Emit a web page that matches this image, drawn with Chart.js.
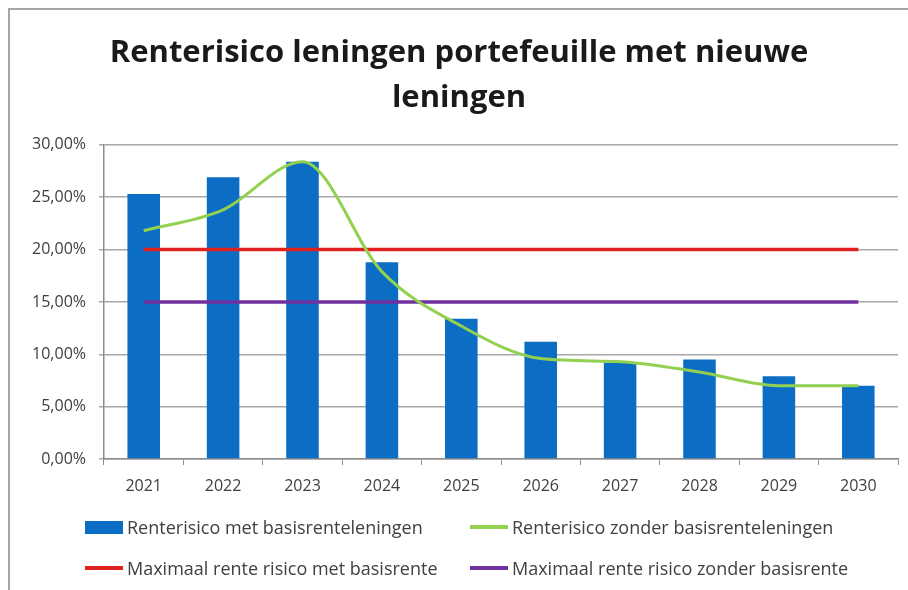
<!DOCTYPE html>
<html>
<head>
  <meta charset="UTF-8">
  <title>Renterisico leningen portefeuille</title>
  <script src="https://cdn.jsdelivr.net/npm/chart.js"></script>
  <style>
    body {
      margin: 0;
      background: #ffffff;
      font-family: 'Open Sans', sans-serif;
    }
    #wrap {
      position: relative;
      width: 908px;
      height: 590px;
      overflow: hidden;
    }
    #frame {
      position: absolute;
      left: 8px;
      top: 8px;
      width: 910px;
      height: 600px;
      border-top: 2px solid #a6a6a6;
      border-left: 2px solid #a6a6a6;
      pointer-events: none;
    }
    #legend {
      position: absolute;
      left: 85px;
      top: 514px;
      display: grid;
      grid-template-columns: 385px 420px;
      row-gap: 15px;
      font-size: 18px;
      color: #404040;
    }
    .item {
      display: flex;
      align-items: center;
      height: 26px;
    }
    .swatch {
      width: 38px;
      margin-right: 4px;
    }
  </style>
</head>
<body>
  <div id="wrap">
    <canvas id="chart" width="908" height="590"></canvas>
    <div id="frame"></div>
    <div id="legend"></div>
  </div>
  <script>
    const jaren = ['2021', '2022', '2023', '2024', '2025', '2026', '2027', '2028', '2029', '2030'];
    const metBasis = [25.3, 26.9, 28.4, 18.8, 13.4, 11.2, 9.2, 9.5, 7.9, 7.0];
    const zonderBasis = [21.8, 23.8, 28.4, 17.9, 12.7, 9.6, 9.3, 8.3, 7.0, 7.0];
    const maxMet = [20, 20, 20, 20, 20, 20, 20, 20, 20, 20];
    const maxZonder = [15, 15, 15, 15, 15, 15, 15, 15, 15, 15];

    const fontFam = "'Open Sans', sans-serif";

    const chart = new Chart(document.getElementById('chart'), {
      type: 'bar',
      data: {
        labels: jaren,
        datasets: [
          {
            type: 'bar',
            label: 'Renterisico met basisrenteleningen',
            data: metBasis,
            backgroundColor: '#0b6dc4',
            categoryPercentage: 1.0,
            barPercentage: 0.41,
            order: 4
          },
          {
            type: 'line',
            label: 'Renterisico zonder basisrenteleningen',
            data: zonderBasis,
            borderColor: '#92d050',
            borderWidth: 3,
            pointRadius: 0,
            cubicInterpolationMode: 'monotone',
            order: 1
          },
          {
            type: 'line',
            label: 'Maximaal rente risico met basisrente',
            data: maxMet,
            borderColor: '#e0201f',
            borderWidth: 3.5,
            pointRadius: 0,
            order: 3
          },
          {
            type: 'line',
            label: 'Maximaal rente risico zonder basisrente',
            data: maxZonder,
            borderColor: '#7030a0',
            borderWidth: 3.5,
            pointRadius: 0,
            order: 2
          }
        ]
      },
      options: {
        responsive: false,
        animation: false,
        layout: {
          padding: { left: 20, right: 10, top: 31, bottom: 86 }
        },
        plugins: {
          legend: { display: false },
          tooltip: { enabled: false },
          title: {
            display: true,
            text: ['Renterisico leningen portefeuille met nieuwe', 'leningen'],
            color: '#1a1a1a',
            font: { family: fontFam, size: 31, weight: 'bold', lineHeight: 1.45 },
            padding: { top: 0, bottom: 24 }
          }
        },
        scales: {
          x: {
            offset: true,
            grid: {
              offset: true,
              drawOnChartArea: false,
              tickLength: 6,
              color: '#8c8c8c'
            },
            border: { color: '#8c8c8c', width: 1.5 },
            ticks: {
              color: '#404040',
              font: { family: fontFam, size: 16 },
              padding: 12
            },
            afterFit: (s) => { s.height = 45; }
          },
          y: {
            min: 0,
            max: 30,
            ticks: {
              stepSize: 5,
              color: '#404040',
              font: { family: fontFam, size: 16 },
              padding: 13,
              callback: (v) => v.toFixed(2).replace('.', ',') + '%'
            },
            grid: {
              color: '#a8a8a8',
              lineWidth: 1.5,
              tickLength: 5
            },
            border: { color: '#8c8c8c', width: 1.5 },
            afterFit: (s) => { s.width = 84; }
          }
        }
      }
    });

    // legenda in twee kolommen, zoals in Excel
    const legend = document.getElementById('legend');
    chart.data.datasets.forEach((ds) => {
      const item = document.createElement('div');
      item.className = 'item';
      const sw = document.createElement('span');
      sw.className = 'swatch';
      if (ds.type === 'bar') {
        sw.style.height = '13px';
        sw.style.background = ds.backgroundColor;
      } else {
        sw.style.height = '4px';
        sw.style.background = ds.borderColor;
      }
      item.appendChild(sw);
      item.appendChild(document.createTextNode(ds.label));
      legend.appendChild(item);
    });
  </script>
</body>
</html>
